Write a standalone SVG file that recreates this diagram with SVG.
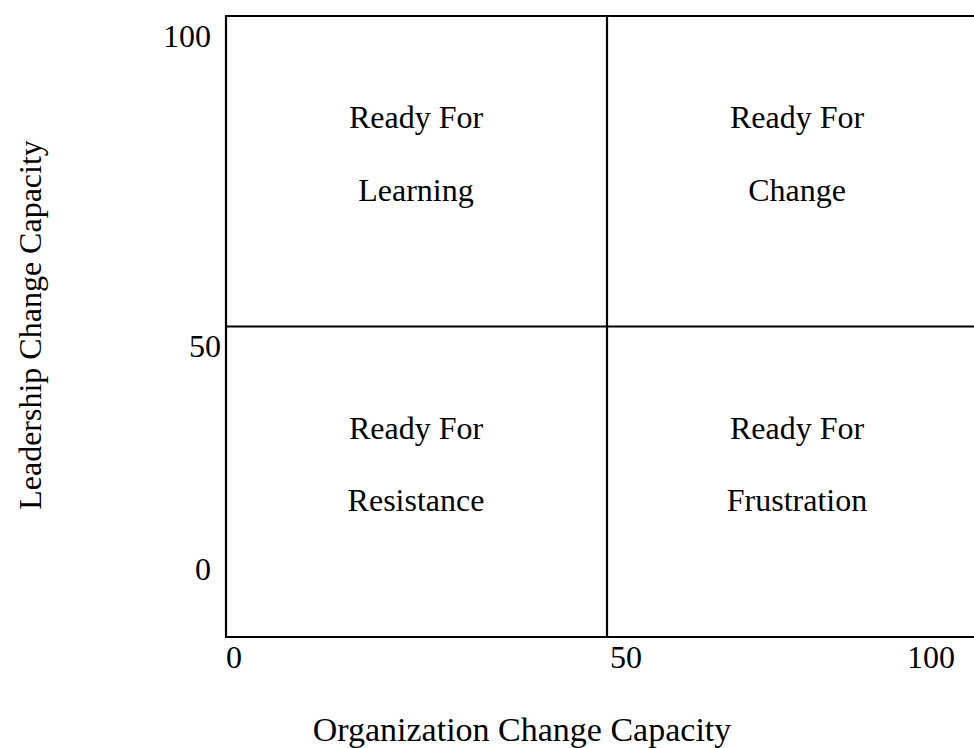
<svg xmlns="http://www.w3.org/2000/svg" width="974" height="748" viewBox="0 0 974 748">
  <style>
    text { font-family: "Liberation Serif", "Times New Roman", serif; font-size: 32px; fill: #000; }
    .c { text-anchor: middle; }
    .e { text-anchor: end; }
    .ln { stroke: #000; stroke-width: 2.2; fill: none; }
  </style>
  <rect width="974" height="748" fill="#fff"/>

  <!-- quadrant grid -->
  <g id="grid">
    <polyline class="ln" points="974,16 226,16 226,637 974,637"/>
    <line class="ln" x1="607" y1="16" x2="607" y2="637"/>
    <line class="ln" x1="226" y1="326.5" x2="974" y2="326.5"/>
  </g>

  <!-- axis ticks -->
  <g id="y-ticks">
    <text class="e" x="211" y="47">100</text>
    <text class="e" x="221" y="357">50</text>
    <text class="e" x="211" y="580">0</text>
  </g>
  <g id="x-ticks">
    <text x="226" y="668">0</text>
    <text x="610" y="668">50</text>
    <text x="907" y="668">100</text>
  </g>

  <!-- axis titles -->
  <text id="x-title" class="c" x="522" y="741" style="font-size:34px">Organization Change Capacity</text>
  <text id="y-title" class="c" transform="translate(41,325) rotate(-90)">Leadership Change Capacity</text>

  <!-- quadrants -->
  <g id="learning">
    <text class="c" x="416" y="128">Ready For</text>
    <text class="c" x="416" y="201">Learning</text>
  </g>
  <g id="change">
    <text class="c" x="797" y="128">Ready For</text>
    <text class="c" x="797" y="201">Change</text>
  </g>
  <g id="resistance">
    <text class="c" x="416" y="439">Ready For</text>
    <text class="c" x="416" y="511">Resistance</text>
  </g>
  <g id="frustration">
    <text class="c" x="797" y="439">Ready For</text>
    <text class="c" x="797" y="511">Frustration</text>
  </g>
</svg>
